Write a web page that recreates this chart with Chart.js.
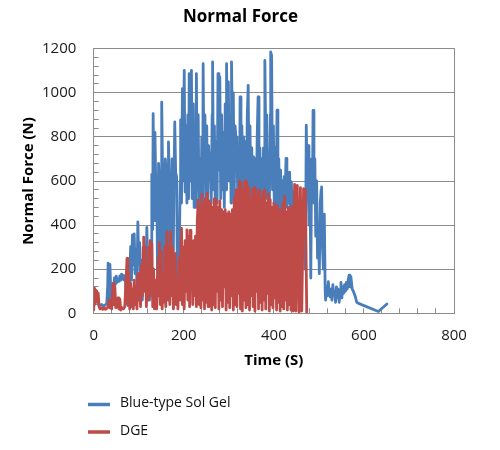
<!DOCTYPE html>
<html>
<head>
<meta charset="utf-8">
<script src="https://cdn.jsdelivr.net/npm/chart.js@4.4.1/dist/chart.umd.min.js"></script>
<style>
  body { margin: 0; background: #fff; }
  #wrap { width: 500px; height: 450px; }
</style>
</head>
<body>
<div id="wrap"><canvas id="forceChart"></canvas></div>
<script>
// ===== DATA =====
const blueTime = [
  10, 14, 18, 22, 26, 29, 31, 32, 34, 36,
  38, 40, 42, 44, 46, 48, 50, 52, 54, 56,
  58, 60, 62, 64, 66, 68, 70, 72, 74, 76,
  78, 80, 82, 84, 86, 88, 90, 92, 94, 96,
  98, 100, 102, 104, 106, 108, 110, 112, 114, 116,
  118, 120, 122, 124, 126, 128, 129, 131, 132, 134,
  136, 138, 140, 142, 144, 146, 148, 150, 151, 153,
  155, 157, 159, 161, 163, 165, 166, 168, 170, 172,
  174, 176, 178, 180, 182, 184, 186, 188, 190, 192,
  193, 195, 197, 199, 201, 203, 205, 207, 209, 211,
  212, 214, 216, 217, 219, 221, 223, 225, 227, 228,
  230, 232, 234, 236, 238, 240, 242, 243, 245, 247,
  249, 251, 253, 255, 257, 259, 261, 263, 264, 266,
  268, 270, 272, 274, 276, 278, 280, 282, 284, 286,
  288, 290, 292, 294, 295, 297, 299, 301, 303, 305,
  306, 308, 310, 312, 314, 316, 318, 320, 322, 324,
  325, 327, 329, 331, 333, 335, 337, 339, 341, 343,
  345, 347, 349, 351, 353, 355, 357, 359, 361, 363,
  365, 367, 369, 371, 373, 375, 377, 379, 380, 382,
  384, 386, 388, 390, 392, 393, 395, 397, 399, 401,
  403, 405, 407, 409, 411, 413, 415, 417, 419, 421,
  423, 425, 427, 429, 431, 433, 435, 437, 439, 441,
  443, 445, 447, 449, 451, 453, 455, 457, 459, 461,
  463, 465, 467, 469, 471, 472, 474, 476, 478, 480,
  482, 484, 486, 487, 489, 491, 493, 495, 497, 499,
  501, 503, 505, 506, 508, 510, 512, 514, 515, 517,
  519, 521, 523, 525, 527, 529, 531, 533, 535, 537,
  539, 541, 543, 545, 547, 549, 551, 553, 555, 557,
  559, 561, 563, 565, 567, 569, 571, 574, 577, 581,
  584, 588, 632, 651
];
const blueForce = [
  42, 36, 40, 32, 38, 45, 120, 228, 70, 222,
  95, 88, 125, 105, 160, 130, 168, 140, 155, 145,
  170, 150, 178, 155, 172, 150, 170, 90, 50, 35,
  60, 160, 302, 150, 355, 220, 360, 180, 290, 120,
  415, 230, 320, 120, 240, 60, 180, 110, 250, 180,
  390, 200, 120, 60, 280, 180, 630, 380, 906, 420,
  820, 560, 600, 120, 680, 600, 540, 60, 958, 620,
  600, 150, 700, 640, 600, 100, 777, 600, 620, 200,
  700, 80, 560, 868, 640, 620, 120, 60, 260, 600,
  877, 500, 1019, 600, 1102, 550, 850, 500, 900, 520,
  1087, 600, 1000, 1102, 520, 950, 480, 800, 480, 1087,
  560, 900, 470, 700, 460, 800, 500, 1132, 620, 900,
  470, 850, 500, 760, 680, 720, 500, 900, 1140, 560,
  850, 480, 780, 500, 1087, 650, 1072, 520, 900, 560,
  820, 480, 950, 560, 1132, 750, 1050, 600, 900, 500,
  1140, 800, 1000, 520, 850, 785, 800, 480, 750, 540,
  981, 600, 850, 470, 800, 500, 780, 480, 900, 1034,
  560, 850, 460, 750, 500, 709, 470, 700, 520, 800,
  981, 540, 750, 513, 700, 480, 750, 500, 1147, 800,
  900, 520, 709, 470, 900, 1185, 1170, 560, 850, 480,
  750, 460, 921, 500, 700, 450, 649, 470, 600, 480,
  620, 520, 702, 480, 620, 500, 640, 450, 596, 400,
  550, 380, 520, 350, 480, 300, 450, 280, 420, 250,
  400, 300, 380, 200, 500, 853, 600, 760, 400, 650,
  160, 700, 600, 920, 500, 700, 350, 600, 250, 400,
  180, 500, 560, 573, 300, 200, 450, 100, 60, 120,
  80, 143, 90, 75, 110, 60, 130, 85, 100, 50,
  120, 70, 110, 50, 90, 140, 70, 120, 90, 130,
  100, 140, 110, 150, 173, 120, 166, 110, 98, 75,
  50, 45, 8, 42
];

const dgeTime = [
  0, 1, 2, 4, 5, 7, 8, 10, 12, 14,
  17, 20, 23, 26, 29, 32, 34, 36, 38, 40,
  42, 43, 45, 47, 49, 52, 54, 56, 58, 60,
  63, 66, 69, 71, 73, 74, 76, 78, 80, 82,
  84, 86, 88, 90, 92, 94, 96, 98, 100, 102,
  104, 106, 108, 110, 111, 113, 115, 117, 119, 121,
  123, 125, 127, 129, 131, 133, 135, 138, 140, 143,
  145, 146, 148, 150, 152, 155, 157, 158, 160, 162,
  163, 165, 167, 169, 171, 173, 175, 177, 179, 181,
  183, 185, 187, 190, 192, 194, 195, 197, 199, 201,
  203, 205, 207, 209, 211, 213, 214, 216, 218, 220,
  222, 224, 226, 228, 230, 232, 234, 236, 238, 240,
  242, 244, 246, 248, 250, 252, 254, 256, 258, 260,
  262, 264, 266, 268, 270, 272, 274, 276, 278, 280,
  282, 284, 286, 288, 290, 292, 294, 296, 298, 300,
  302, 304, 306, 308, 310, 312, 314, 316, 318, 320,
  322, 324, 326, 328, 330, 332, 334, 336, 338, 340,
  342, 344, 346, 348, 350, 352, 354, 356, 358, 360,
  362, 364, 366, 368, 370, 372, 374, 376, 378, 380,
  382, 384, 386, 388, 390, 392, 394, 396, 398, 400,
  402, 404, 406, 408, 410, 412, 414, 416, 418, 420,
  422, 424, 426, 428, 430, 432, 434, 436, 438, 440,
  443, 446, 449, 452, 456, 459, 462, 466, 470, 473
];
const dgeForce = [
  15, 113, 40, 105, 50, 100, 60, 92, 30, 20,
  25, 18, 25, 18, 22, 30, 60, 25, 55, 20,
  100, 136, 40, 120, 25, 30, 70, 20, 65, 15,
  25, 20, 30, 120, 200, 249, 40, 180, 20, 136,
  30, 110, 20, 150, 40, 120, 20, 180, 60, 181,
  30, 220, 80, 300, 345, 100, 300, 30, 200, 60,
  300, 330, 80, 317, 30, 200, 20, 150, 20, 250,
  80, 320, 40, 280, 20, 180, 50, 300, 30, 330,
  370, 60, 300, 40, 370, 80, 300, 20, 200, 272,
  40, 150, 20, 250, 60, 340, 385, 40, 300, 20,
  330, 100, 378, 60, 350, 30, 376, 120, 300, 40,
  330, 80, 350, 30, 420, 513, 40, 480, 25, 540,
  60, 500, 20, 520, 50, 545, 30, 510, 80, 500,
  15, 480, 40, 520, 25, 515, 100, 480, 20, 510,
  60, 470, 30, 460, 120, 470, 15, 450, 50, 460,
  25, 450, 80, 470, 15, 520, 40, 560, 30, 540,
  90, 600, 20, 590, 10, 560, 60, 600, 25, 595,
  40, 570, 15, 520, 80, 560, 30, 570, 10, 565,
  100, 540, 20, 560, 50, 520, 15, 550, 60, 560,
  20, 500, 90, 540, 10, 515, 40, 480, 25, 500,
  70, 480, 15, 490, 50, 470, 10, 460, 30, 500,
  20, 530, 60, 460, 15, 480, 40, 470, 15, 485,
  10, 585, 10, 580, 5, 570, 10, 565, 560, 5
];

const seriesNames = ["Blue-type Sol Gel", "DGE"];
const seriesColors = ["#4A7EBB", "#BE4B48"];

// ===== HELPERS =====
function toPoints(xs, ys) {
  return xs.map((x, i) => ({ x: x, y: ys[i] }));
}

const GRID = "#8c8c8c";
Chart.defaults.font.family = '"Open Sans", "DejaVu Sans", sans-serif';

// legend stacked under the plot, one row per series
const stackedLegend = {
  id: "stackedLegend",
  afterDraw(chart) {
    const ctx = chart.ctx;
    ctx.save();
    ctx.font = '14px "Open Sans", sans-serif';
    ctx.textBaseline = "middle";
    chart.data.datasets.forEach((ds, i) => {
      const y = 403.5 + i * 27.5;
      ctx.strokeStyle = ds.borderColor;
      ctx.lineWidth = 3.5;
      ctx.beginPath();
      ctx.moveTo(88, y + 1);
      ctx.lineTo(110, y + 1);
      ctx.stroke();
      ctx.fillStyle = "#111";
      ctx.fillText(ds.label, 120, y);
    });
    ctx.restore();
  }
};

new Chart(document.getElementById("forceChart"), {
  type: "line",
  data: {
    datasets: [
      {
        label: seriesNames[0],
        data: toPoints(blueTime, blueForce),
        borderColor: seriesColors[0],
        borderWidth: 2.8,
        borderJoinStyle: "round",
        borderCapStyle: "round",
        pointRadius: 0,
        tension: 0,
        order: 2
      },
      {
        label: seriesNames[1],
        data: toPoints(dgeTime, dgeForce),
        borderColor: seriesColors[1],
        borderWidth: 2.8,
        borderJoinStyle: "round",
        borderCapStyle: "round",
        pointRadius: 0,
        tension: 0,
        order: 1
      }
    ]
  },
  options: {
    responsive: true,
    maintainAspectRatio: false,
    animation: false,
    layout: { padding: { left: 27, right: 46, top: 0, bottom: 76.7 } },
    plugins: {
      legend: { display: false },
      tooltip: { enabled: false },
      title: {
        display: true,
        text: "Normal Force",
        color: "#000",
        font: { size: 17, weight: "bold" },
        padding: { top: 6.8, bottom: 21.5 }
      }
    },
    scales: {
      x: {
        type: "linear",
        min: 0,
        max: 800,
        ticks: {
          stepSize: 40,
          maxTicksLimit: 100,
          autoSkip: false,
          maxRotation: 0,
          padding: 18.7,
          color: "#1a1a1a",
          font: { size: 15 },
          callback: v => (v % 200 === 0 ? v : "")
        },
        grid: { drawOnChartArea: false, tickLength: -5, tickColor: GRID, color: GRID },
        border: { color: GRID, width: 1 },
        title: {
          display: true,
          text: "Time (S)",
          color: "#000",
          font: { size: 15, weight: "bold" },
          padding: { top: 0, bottom: 3.3 }
        },
        afterFit: s => { s.height = 60; }
      },
      y: {
        min: 0,
        max: 1200,
        ticks: {
          stepSize: 40,
          maxTicksLimit: 100,
          autoSkip: false,
          padding: 22.4,
          color: "#1a1a1a",
          font: { size: 15 },
          callback: v => (v % 200 === 0 ? v : "")
        },
        grid: {
          color: c => (c.tick && c.tick.value % 200 === 0 ? GRID : "rgba(0,0,0,0)"),
          tickLength: -5,
          tickColor: GRID
        },
        border: { color: GRID, width: 1 },
        title: {
          display: true,
          text: "Normal Force (N)",
          color: "#000",
          font: { size: 15, weight: "bold" },
          padding: { top: -7, bottom: 0 }
        },
        afterFit: s => { s.width = 66.7; }
      },
      yRight: {
        position: "right",
        min: 0,
        max: 1200,
        ticks: { display: false },
        grid: { display: false, drawTicks: false },
        border: { color: GRID, width: 1 },
        afterFit: s => { s.width = 0; }
      }
    }
  },
  plugins: [stackedLegend]
});
</script>
</body>
</html>
